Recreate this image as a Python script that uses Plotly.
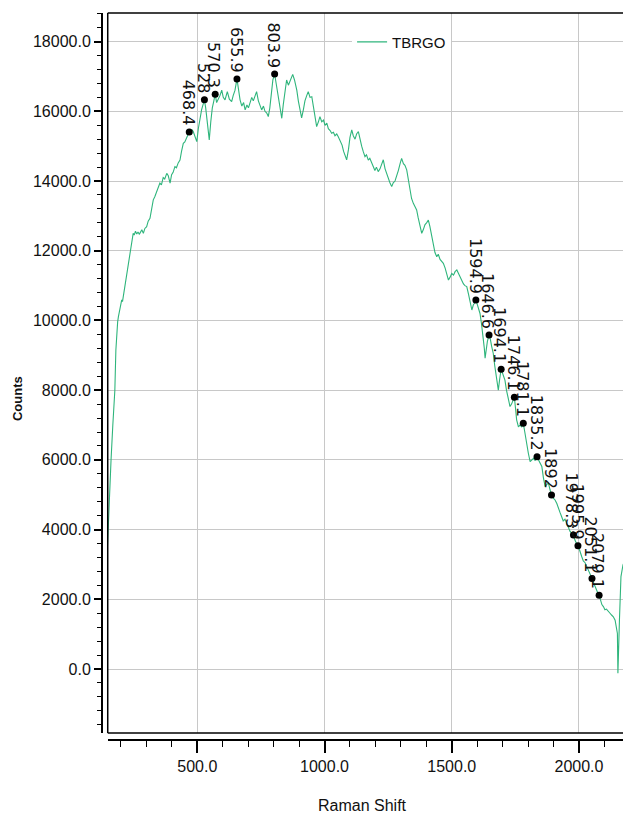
import plotly.graph_objects as go

# Raman spectrum of the TBRGO sample (shift in cm-1, detector counts)
raman_shift = [146, 149, 155, 161, 168, 176, 180, 184, 187, 190, 196, 203, 206, 209, 215, 222, 229,
               235, 242, 248, 252, 257, 262, 267, 272, 276, 282, 288, 294, 301, 307, 314, 320, 327,
               333, 340, 346, 353, 359, 366, 372, 380, 386, 393, 399, 405, 412, 418, 425, 432, 438,
               445, 451, 458, 463, 468.4, 474, 479, 484, 490, 498, 504, 511, 517, 524, 528, 533,
               538, 543, 547, 553, 559, 565, 570.3, 576, 582, 589, 596, 602, 609, 618, 626, 635,
               641, 648, 655.9, 661, 668, 675, 682, 688, 695, 701, 707, 714, 720, 727, 733, 740,
               746, 753, 760, 766, 773, 779, 785, 791, 797, 803.9, 810, 818, 825, 832, 838, 845,
               851, 858, 863, 869, 875, 882, 891, 897, 904, 910, 917, 923, 930, 936, 943, 950, 956,
               963, 969, 976, 982, 989, 996, 1002, 1009, 1015, 1022, 1028, 1035, 1041, 1048, 1054,
               1061, 1069, 1075, 1081, 1087, 1094, 1100, 1107, 1113, 1120, 1126, 1133, 1139, 1146,
               1152, 1159, 1165, 1172, 1178, 1185, 1191, 1198, 1204, 1211, 1218, 1224, 1231, 1238,
               1244, 1251, 1257, 1264, 1270, 1277, 1284, 1290, 1297, 1303, 1310, 1316, 1323, 1329,
               1336, 1342, 1349, 1355, 1362, 1368, 1375, 1382, 1388, 1395, 1401, 1408, 1414, 1421,
               1428, 1434, 1441, 1447, 1454, 1460, 1467, 1474, 1480, 1487, 1494, 1500, 1507, 1513,
               1520, 1526, 1532, 1539, 1546, 1552, 1559, 1566, 1572, 1579, 1585, 1590, 1594.9,
               1600, 1605, 1611, 1617, 1624, 1628, 1631, 1635, 1640, 1646.6, 1652, 1657, 1663,
               1669, 1675, 1679, 1683, 1688, 1694.1, 1699, 1704, 1709, 1715, 1722, 1729, 1735,
               1740, 1746.1, 1751, 1755, 1762, 1768, 1775, 1781.1, 1787, 1794, 1801, 1808, 1815,
               1822, 1828, 1835.2, 1841, 1848, 1854, 1860, 1867, 1874, 1880, 1886, 1892, 1899,
               1906, 1913, 1919, 1925, 1932, 1938, 1945, 1952, 1958, 1965, 1971, 1978.3, 1984,
               1990, 1995.9, 2003, 2011, 2017, 2024, 2031, 2037, 2044, 2051.1, 2057, 2063, 2069,
               2074, 2079.1, 2085, 2090, 2096, 2102, 2108, 2115, 2122, 2128, 2135, 2142, 2147,
               2151, 2153, 2156, 2159, 2165, 2173, 2180]
counts = [3350, 4000, 5000, 6000, 7000, 8000, 9150, 9700, 9960, 10110, 10300, 10590, 10540, 10680,
          10900, 11160, 11545, 11900, 12215, 12500, 12450, 12560, 12480, 12540, 12470, 12520,
          12600, 12500, 12640, 12690, 12850, 12930, 13150, 13460, 13550, 13700, 13800, 13940,
          13890, 14100, 14060, 14220, 14150, 13940, 14180, 14250, 14415, 14380, 14520, 14600,
          14850, 15080, 15120, 15250, 15300, 15410, 15380, 15480, 15420, 15300, 15130, 15500,
          15850, 16050, 16230, 16330, 16100, 15700, 15350, 15180, 15700, 16100, 16300, 16490,
          16250, 16330, 16450, 16610, 16400, 16330, 16565, 16350, 16280, 16450, 16600, 16930,
          16600, 16330, 16150, 16250, 16040, 16180, 16100, 16230, 16400, 16300, 16480, 16565,
          16300, 16200, 16040, 16150, 16000, 15950, 15850, 16100, 16600, 16900, 17070, 16800,
          16520, 16150, 15800, 16200, 16600, 16900, 16750, 16850, 16950, 17060, 16900, 16610,
          16300, 16050, 15810, 16050, 16300, 16450, 16565, 16400, 16420, 16150, 15800, 15560,
          15700, 15850, 15700, 15750, 15600, 15660, 15500, 15450, 15370, 15400, 15300, 15350,
          15270, 15150, 15030, 14850, 14700, 14610, 14900, 15250, 15470, 15300, 15200, 15350,
          15420, 15200, 15000, 14850, 14700, 14750, 14600, 14650, 14510, 14450, 14300, 14400,
          14270, 14350, 14500, 14610, 14350, 14200, 14050, 13950, 13840, 13950, 14000, 14130,
          14300, 14500, 14650, 14500, 14450, 14320, 14050, 13750, 13500, 13360, 13250, 13170,
          12950, 12700, 12500, 12600, 12750, 12800, 12880, 12700, 12400, 12120, 11950, 11830,
          11900, 11750, 11700, 11640, 11500, 11300, 11160, 11250, 11350, 11300, 11400, 11450,
          11350, 11250, 11160, 11050, 11000, 10970, 10750, 10500, 10300, 10450, 10500, 10590,
          10450, 10350, 10200, 9900, 9540, 9200, 8920, 9150, 9400, 9580, 9450, 9250, 9060, 8700,
          8400, 8150, 8000, 8300, 8600, 8500, 8400, 8290, 8000, 7750, 7530, 7600, 7700, 7800,
          7450, 7150, 6950, 7000, 6950, 7050, 6800, 6450, 6190, 5950, 6000, 6050, 5980, 6090,
          6000, 5900, 5810, 5500, 5230, 5300, 5330, 5150, 4990, 4900, 4850, 4750, 4600, 4500,
          4370, 4250, 4300, 4180, 4050, 3950, 3900, 3845, 3700, 3600, 3540, 3400, 3220, 3100,
          3050, 2940, 2850, 2700, 2600, 2480, 2360, 2250, 2180, 2120, 1950, 1850, 1790, 1700,
          1720, 1645, 1600, 1550, 1500, 1400, 1200, 1020, -120, 800, 1400, 2650, 2990, 3100]

# Picked peaks
peak_shift = [468.4, 528, 570.3, 655.9, 803.9, 1594.9, 1646.6, 1694.1, 1746.1, 1781.1,
              1835.2, 1892, 1978.3, 1995.9, 2051.1, 2079.1]
peak_labels = ["468.4", "528", "570.3", "655.9", "803.9", "1594.9", "1646.6", "1694.1",
               "1746.1", "1781.1", "1835.2", "1892", "1978.3", "1995.9", "2051.1", "2079.1"]
peak_counts = [counts[raman_shift.index(s)] for s in peak_shift]

x_ticks = [500, 1000, 1500, 2000]
y_ticks = list(range(0, 18001, 2000))

LINE_COLOR = "#2fb57c"
TICK_FONT = dict(family="Liberation Sans, Arial", size=16, color="#111111")

fig = go.Figure()
fig.add_trace(go.Scatter(x=raman_shift, y=counts, mode="lines", name="TBRGO",
                         line=dict(color=LINE_COLOR, width=1.1)))
fig.add_trace(go.Scatter(x=peak_shift, y=peak_counts, mode="markers", showlegend=False,
                         marker=dict(color="black", size=7)))

for s, c, lab in zip(peak_shift, peak_counts, peak_labels):
    fig.add_annotation(x=s, y=c, text=lab, showarrow=False, textangle=90,
                       xanchor="center", yanchor="bottom", yshift=4, xshift=-1,
                       font=dict(family="DejaVu Sans", size=16, color="#111111"))

fig.add_annotation(x=-0.18, y=0.47, xref="paper", yref="paper", text="<b>Counts</b>",
                   textangle=-90, showarrow=False,
                   font=dict(family="Liberation Sans, Arial", size=13, color="#111111"))
fig.add_annotation(x=0.5, y=-0.09, xref="paper", yref="paper", text="Raman Shift",
                   showarrow=False, yanchor="middle",
                   font=dict(family="Liberation Sans, Arial", size=16, color="#111111"))

# Inner plot frame (axis lines sit just outside it)
fig.add_shape(type="line", xref="paper", yref="paper", x0=0.011, x1=1.05, y0=1, y1=1,
              line=dict(color="black", width=1.5))
fig.add_shape(type="line", xref="paper", yref="paper", x0=0.011, x1=0.011, y0=0.0096, y1=1,
              line=dict(color="black", width=1.5))
fig.add_shape(type="line", xref="paper", yref="paper", x0=0.011, x1=1.05, y0=0.0096, y1=0.0096,
              line=dict(color="black", width=1.5))

fig.update_layout(
    width=623, height=817,
    margin=dict(l=102, r=0, t=13, b=77),
    paper_bgcolor="white", plot_bgcolor="white",
    showlegend=True,
    legend=dict(x=0.48, y=0.96, xanchor="left", yanchor="middle", bgcolor="white",
                borderwidth=0, font=dict(family="Liberation Sans, Arial", size=15,
                                         color="#111111")),
    xaxis=dict(range=[148, 2173], domain=[0.011, 1], anchor="free", position=0,
               tickvals=x_ticks, tickformat=".1f", tickfont=TICK_FONT,
               ticks="outside", ticklen=12, tickwidth=1.5, tickcolor="black",
               showline=True, linecolor="black", linewidth=2,
               showgrid=True, gridcolor="#c8c8c8", gridwidth=1, zeroline=False,
               minor=dict(dtick=100, tick0=0, ticks="outside", ticklen=6, tickcolor="black",
                          tickwidth=1.2, showgrid=False)),
    yaxis=dict(range=[-1836, 18821], domain=[0.0096, 1], anchor="free", position=0,
               tickvals=y_ticks, tickformat=".1f", tickfont=TICK_FONT,
               ticks="outside", ticklen=7, tickwidth=1.5, tickcolor="black",
               showline=True, linecolor="black", linewidth=2,
               showgrid=True, gridcolor="#c8c8c8", gridwidth=1, zeroline=False,
               minor=dict(dtick=400, tick0=0, ticks="outside", ticklen=4, tickcolor="black",
                          tickwidth=1.2, showgrid=False)),
)

fig.write_html("out.html")
